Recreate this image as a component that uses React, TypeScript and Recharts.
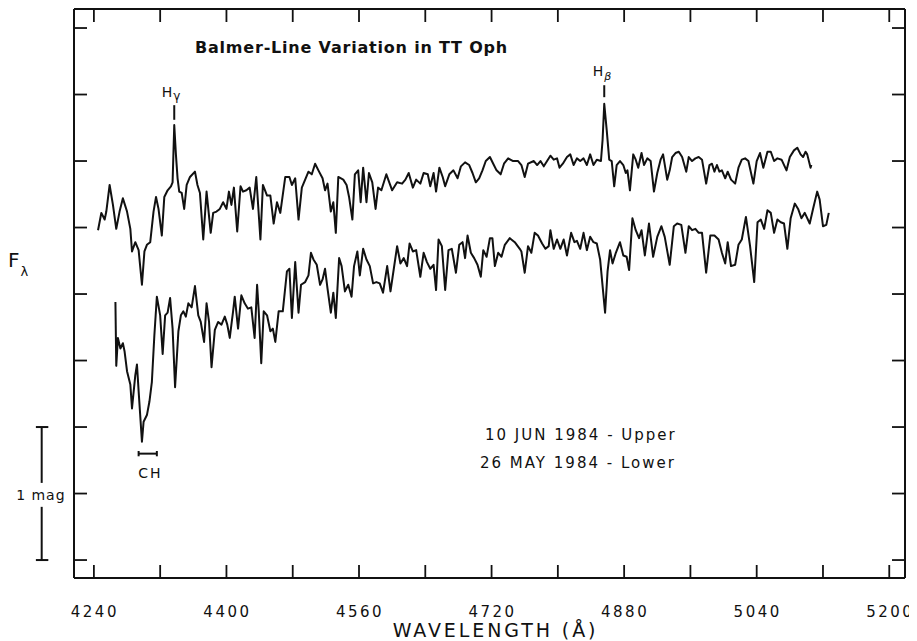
import { LineChart, Line, XAxis, YAxis, ReferenceLine, ReferenceDot } from "recharts";

// wavelength (Å) and relative flux (mag, 1 unit = 1 mag)
const upperWave = [
  4245, 4249, 4253, 4255, 4259, 4263, 4267, 4271, 4275, 4277, 4280, 4284, 4286, 4290, 4294, 4298,
  4301, 4304, 4308, 4312, 4315, 4318, 4322, 4325, 4329, 4333, 4335, 4337, 4339, 4341, 4343, 4346,
  4349, 4352, 4356, 4362, 4365, 4368, 4372, 4376, 4381, 4384, 4388, 4392, 4396, 4400, 4403, 4406,
  4409, 4413, 4417, 4420, 4424, 4428, 4432, 4436, 4441, 4444, 4449, 4453, 4457, 4461, 4465, 4471,
  4476, 4479, 4483, 4487, 4491, 4495, 4499, 4503, 4507, 4511, 4516, 4519, 4522, 4526, 4529, 4532,
  4535, 4541, 4545, 4548, 4552, 4555, 4559, 4562, 4565, 4569, 4572, 4576, 4580, 4583, 4587, 4593,
  4600, 4606, 4612, 4616, 4620, 4625, 4629, 4634, 4638, 4643, 4646, 4650, 4653, 4657, 4661, 4664,
  4669, 4674, 4679, 4683, 4688, 4693, 4697, 4701, 4705, 4709, 4713, 4718, 4722, 4726, 4731, 4735,
  4740, 4746, 4752, 4756, 4760, 4764, 4771, 4775, 4779, 4783, 4787, 4791, 4795, 4799, 4802, 4806,
  4811, 4815, 4819, 4823, 4827, 4831, 4835, 4839, 4843, 4847, 4852, 4854, 4856, 4859, 4862, 4865,
  4868, 4871, 4875, 4879, 4882, 4884, 4887, 4891, 4894, 4897, 4901, 4904, 4908, 4912, 4916, 4920,
  4924, 4927, 4932, 4935, 4938, 4942, 4946, 4950, 4955, 4958, 4962, 4966, 4970, 4974, 4979, 4983,
  4986, 4989, 4992, 4995, 4998, 5002, 5005, 5009, 5014, 5018, 5022, 5026, 5030, 5036, 5040, 5044,
  5048, 5053, 5057, 5061, 5065, 5070, 5076, 5080, 5085, 5089, 5093, 5096, 5099, 5101, 5105, 5106,
];
const upperFlux = [
  2.48, 2.61, 2.56, 2.62, 2.82, 2.67, 2.49, 2.62, 2.72, 2.68, 2.62, 2.49, 2.32, 2.39, 2.33, 2.07,
  2.32, 2.37, 2.39, 2.62, 2.73, 2.64, 2.44, 2.73, 2.78, 2.81, 2.84, 3.27, 3.05, 2.87, 2.77, 2.76,
  2.64, 2.82, 2.88, 2.92, 2.82, 2.76, 2.41, 2.77, 2.46, 2.61, 2.62, 2.64, 2.69, 2.64, 2.77, 2.67,
  2.8, 2.47, 2.81, 2.77, 2.78, 2.8, 2.64, 2.88, 2.41, 2.82, 2.74, 2.74, 2.53, 2.69, 2.61, 2.88,
  2.88, 2.82, 2.87, 2.56, 2.8, 2.86, 2.92, 2.9, 2.98, 2.93, 2.87, 2.78, 2.83, 2.62, 2.69, 2.46,
  2.88, 2.86, 2.82, 2.73, 2.56, 2.9, 2.93, 2.69, 2.95, 2.69, 2.91, 2.84, 2.64, 2.8, 2.78, 2.9,
  2.78, 2.84, 2.83, 2.86, 2.91, 2.8, 2.86, 2.83, 2.91, 2.9, 2.81, 2.91, 2.77, 2.95, 2.88, 2.81,
  2.9, 2.93, 2.87, 2.96, 2.99, 2.97, 2.91, 2.84, 2.87, 2.93, 3.0, 3.03, 2.98, 2.93, 2.9, 2.98,
  3.02, 3.0, 3.0, 2.97, 2.88, 2.98, 3.0, 2.97, 3.0, 2.96, 3.0, 3.04, 3.01, 3.02, 2.95, 2.98,
  3.03, 3.05, 2.97, 3.02, 3.0, 3.02, 2.97, 3.05, 2.97, 3.01, 3.0, 3.16, 3.43, 3.23, 3.01, 3.0,
  2.81, 2.97, 3.0, 2.97, 2.91, 2.93, 2.78, 3.05, 3.01, 2.95, 3.06, 2.97, 3.02, 3.0, 2.77, 2.91,
  3.01, 3.05, 2.86, 2.93, 3.03, 3.06, 3.07, 3.03, 2.92, 3.03, 3.0, 3.02, 3.03, 3.01, 2.83, 2.97,
  2.98, 2.92, 2.97, 2.92, 2.93, 2.87, 2.92, 2.86, 2.83, 2.95, 3.01, 3.02, 3.0, 2.83, 3.0, 3.06,
  2.95, 3.07, 3.07, 3.0, 3.02, 3.01, 2.93, 3.03, 3.08, 3.1, 3.05, 3.03, 3.07, 3.05, 2.95, 2.97,
];

const lowerWave = [
  4266, 4267, 4269, 4272, 4275, 4277, 4280, 4284, 4286, 4290, 4292, 4294, 4298, 4300, 4304, 4307,
  4310, 4313, 4316, 4320, 4323, 4326, 4329, 4332, 4335, 4338, 4342, 4345, 4348, 4351, 4354, 4358,
  4362, 4366, 4369, 4373, 4376, 4379, 4382, 4386, 4390, 4394, 4398, 4401, 4404, 4408, 4410, 4414,
  4418, 4422, 4426, 4430, 4434, 4437, 4439, 4442, 4445, 4449, 4453, 4456, 4459, 4463, 4468, 4473,
  4476, 4479, 4483, 4487, 4490, 4495, 4499, 4502, 4505, 4509, 4513, 4516, 4519, 4522, 4526, 4529,
  4532, 4536, 4539, 4543, 4547, 4551, 4554, 4558, 4561, 4565, 4569, 4573, 4577, 4581, 4585, 4589,
  4594, 4598, 4602, 4606, 4610, 4614, 4618, 4621, 4625, 4629, 4634, 4638, 4642, 4646, 4650, 4653,
  4656, 4660, 4664, 4668, 4672, 4677, 4681, 4685, 4688, 4691, 4695, 4699, 4703, 4707, 4710, 4714,
  4718, 4721, 4724, 4728, 4732, 4736, 4742, 4748, 4754, 4756, 4760, 4764, 4768, 4772, 4776, 4781,
  4785, 4789, 4791, 4795, 4799, 4803, 4807, 4811, 4816, 4820, 4823, 4827, 4831, 4835, 4839, 4843,
  4847, 4851, 4854, 4857, 4860, 4863, 4866, 4870, 4875, 4879, 4883, 4886, 4890, 4894, 4898, 4901,
  4905, 4910, 4915, 4920, 4925, 4929, 4935, 4940, 4944, 4949, 4954, 4958, 4962, 4966, 4970, 4974,
  4979, 4984, 4989, 4994, 4998, 5002, 5005, 5009, 5014, 5018, 5022, 5027, 5032, 5037, 5041, 5045,
  5049, 5053, 5057, 5061, 5065, 5069, 5073, 5077, 5081, 5086, 5090, 5094, 5098, 5104, 5108, 5113,
  5116, 5120, 5124, 5127,
];
const lowerFlux = [
  1.94, 1.46, 1.67, 1.59, 1.63, 1.57, 1.42, 1.32, 1.14, 1.39, 1.47, 1.27, 0.89, 1.04, 1.09, 1.19,
  1.34, 1.69, 1.98, 1.84, 1.55, 1.84, 1.86, 1.97, 1.74, 1.3, 1.72, 1.84, 1.87, 1.83, 1.93, 1.9,
  2.06, 1.84, 1.79, 1.64, 1.93, 1.79, 1.45, 1.73, 1.79, 1.77, 1.83, 1.77, 1.67, 1.87, 1.98, 1.74,
  1.99, 1.93, 1.89, 1.9, 1.67, 2.07, 1.87, 1.48, 1.87, 1.84, 1.72, 1.74, 1.64, 1.87, 1.87, 2.17,
  2.19, 1.82, 2.24, 1.86, 2.07, 2.09, 2.14, 2.31, 2.26, 2.22, 2.07, 2.11, 2.19, 2.04, 1.86, 2.01,
  1.82, 2.27, 2.21, 2.02, 2.07, 1.98, 2.21, 2.32, 2.14, 2.34, 2.26, 2.21, 2.08, 2.09, 2.08, 2.01,
  2.21, 2.02, 2.19, 2.36, 2.23, 2.27, 2.21, 2.38, 2.32, 2.33, 2.13, 2.31, 2.24, 2.19, 2.22, 2.03,
  2.41, 2.36, 2.03, 2.33, 2.34, 2.16, 2.37, 2.39, 2.27, 2.44, 2.31, 2.27, 2.22, 2.13, 2.33, 2.28,
  2.42, 2.42, 2.21, 2.31, 2.28, 2.37, 2.42, 2.39, 2.34, 2.32, 2.16, 2.36, 2.31, 2.46, 2.44, 2.38,
  2.34, 2.36, 2.48, 2.34, 2.41, 2.34, 2.41, 2.29, 2.46, 2.39, 2.4, 2.34, 2.46, 2.33, 2.43, 2.39,
  2.38, 2.26, 2.06, 1.86, 2.17, 2.33, 2.23, 2.31, 2.39, 2.29, 2.28, 2.18, 2.57, 2.48, 2.42, 2.48,
  2.29, 2.53, 2.28, 2.43, 2.51, 2.43, 2.22, 2.51, 2.53, 2.52, 2.31, 2.51, 2.48, 2.49, 2.46, 2.46,
  2.16, 2.44, 2.44, 2.41, 2.31, 2.23, 2.39, 2.21, 2.22, 2.37, 2.41, 2.58, 2.36, 2.09, 2.54, 2.56,
  2.49, 2.63, 2.61, 2.46, 2.56, 2.54, 2.53, 2.34, 2.57, 2.68, 2.64, 2.57, 2.61, 2.53, 2.64, 2.77,
  2.71, 2.51, 2.52, 2.61,
];

const waveTicks = [4240, 4320, 4400, 4480, 4560, 4640, 4720, 4800, 4880, 4960, 5040, 5120, 5200];
const fluxTicks = [0, 0.5, 1, 1.5, 2, 2.5, 3, 3.5, 4];

const upper = upperWave.map((w, i) => ({ w, f: upperFlux[i] }));
const lower = lowerWave.map((w, i) => ({ w, f: lowerFlux[i] }));

const INK = "#111";
const FONT = "'DejaVu Sans', sans-serif";
const X_DOMAIN = [4216, 5219];
const Y_DOMAIN = [-0.135, 4.143];

// render a text node at a data point (ReferenceDot label gets the pixel spot in viewBox)
const at = (draw: (x: number, y: number) => any) => (p: any) => {
  const vb = p.viewBox || p;
  return draw(vb.x, vb.y);
};

function WaveTick({ x, y, payload }: any) {
  const v = payload.value;
  if ((v - 4240) % 160 !== 0) return <g />;
  return (
    <text x={x + 1} y={y} dy="0.71em" textAnchor="middle" fontFamily={FONT} fontSize={15} letterSpacing={2.5} fill={INK}>
      {v}
    </text>
  );
}

const NoTick = () => <g />;

const seg = (x1: number, y1: number, x2: number, y2: number, key: string) => (
  <ReferenceLine
    key={key}
    segment={[{ x: x1, y: y1 }, { x: x2, y: y2 }]}
    stroke={INK}
    strokeWidth={2}
    ifOverflow="visible"
  />
);

const note = (x: number, y: number, key: string, draw: (px: number, py: number) => any) => (
  <ReferenceDot key={key} x={x} y={y} r={0} fill="none" stroke="none" ifOverflow="visible" label={at(draw)} />
);

export default function App() {
  const axisLine = { stroke: INK, strokeWidth: 2 };
  const tickLine = { stroke: INK, strokeWidth: 1.8 };

  return (
    <LineChart width={909} height={632} margin={{ top: 0, right: 11, left: 0, bottom: 0 }}>
      <XAxis
        dataKey="w"
        type="number"
        domain={X_DOMAIN}
        allowDataOverflow
        ticks={waveTicks}
        interval={0}
        height={62}
        tickSize={-13}
        tickMargin={41}
        axisLine={axisLine}
        tickLine={tickLine}
        tick={<WaveTick />}
        label={(p: any) => {
          const vb = p.viewBox;
          return (
            <text x={vb.x + vb.width / 2 + 6} y={vb.y + 59} textAnchor="middle" fontFamily={FONT} fontSize={19} letterSpacing={2.9} fill={INK}>
              WAVELENGTH (Å)
            </text>
          );
        }}
      />
      <XAxis
        xAxisId="top"
        orientation="top"
        dataKey="w"
        type="number"
        domain={X_DOMAIN}
        allowDataOverflow
        ticks={waveTicks}
        interval={0}
        height={1}
        tickSize={-13}
        axisLine={axisLine}
        tickLine={tickLine}
        tick={<NoTick />}
      />
      <YAxis
        type="number"
        domain={Y_DOMAIN}
        allowDataOverflow
        ticks={fluxTicks}
        interval={0}
        width={66}
        tickSize={-13}
        axisLine={axisLine}
        tickLine={tickLine}
        tick={<NoTick />}
        label={(p: any) => {
          const vb = p.viewBox;
          return (
            <text x={vb.x} y={vb.y + 258} fontFamily={FONT} fontSize={20} fill={INK}>
              F
              <tspan fontSize={13} dx={1} dy={9}>λ</tspan>
            </text>
          );
        }}
      />
      <YAxis
        yAxisId="right"
        orientation="right"
        type="number"
        domain={Y_DOMAIN}
        allowDataOverflow
        ticks={fluxTicks}
        interval={0}
        width={1}
        tickSize={-13}
        axisLine={axisLine}
        tickLine={tickLine}
        tick={<NoTick />}
      />

      <Line
        xAxisId="top"
        yAxisId="right"
        data={upper}
        dataKey="f"
        type="linear"
        stroke={INK}
        strokeWidth={2}
        dot={false}
        isAnimationActive={false}
        strokeLinejoin="round"
      />
      <Line data={lower} dataKey="f" type="linear" stroke={INK} strokeWidth={2} dot={false} isAnimationActive={false} strokeLinejoin="round" />

      {/* line markers */}
      {seg(4337, 3.31, 4337, 3.42, "hg")}
      {seg(4856, 3.48, 4856, 3.57, "hb")}
      {/* CH bracket */}
      {seg(4294, 0.8, 4316, 0.8, "ch")}
      {seg(4294, 0.78, 4294, 0.82, "ch1")}
      {seg(4316, 0.78, 4316, 0.82, "ch2")}
      {/* 1 mag scale bar */}
      {seg(4177, 0, 4177, 0.4, "m1")}
      {seg(4177, 0.58, 4177, 1, "m2")}
      {seg(4170, 1, 4185, 1, "m3")}
      {seg(4170, 0, 4185, 0, "m4")}

      {note(4362, 3.81, "title", (x, y) => (
        <text x={x} y={y} fontFamily={FONT} fontSize={16} fontWeight="bold" letterSpacing={0.8} fill={INK}>
          Balmer-Line Variation in TT Oph
        </text>
      ))}
      {note(4322, 3.48, "hgl", (x, y) => (
        <text x={x} y={y} fontFamily={FONT} fontSize={14} fill={INK}>
          H<tspan fontSize={12} dx={1} dy={3}>γ</tspan>
        </text>
      ))}
      {note(4842, 3.64, "hbl", (x, y) => (
        <text x={x} y={y} fontFamily={FONT} fontSize={14} fill={INK}>
          H<tspan fontSize={11} dx={1} dy={4} fontStyle="italic">β</tspan>
        </text>
      ))}
      {note(4712, 0.9, "leg1", (x, y) => (
        <text x={x} y={y} fontFamily={FONT} fontSize={15} letterSpacing={2} fill={INK}>
          10 JUN 1984 - Upper
        </text>
      ))}
      {note(4706, 0.69, "leg2", (x, y) => (
        <text x={x} y={y} fontFamily={FONT} fontSize={15} letterSpacing={2} fill={INK}>
          26 MAY 1984 - Lower
        </text>
      ))}
      {note(4307, 0.62, "chl", (x, y) => (
        <text x={x + 1} y={y} textAnchor="middle" fontFamily={FONT} fontSize={14} letterSpacing={2} fill={INK}>
          CH
        </text>
      ))}
      {note(4176, 0.455, "mag", (x, y) => (
        <text x={x} y={y} textAnchor="middle" fontFamily={FONT} fontSize={14} letterSpacing={1} fill={INK}>
          1 mag
        </text>
      ))}
    </LineChart>
  );
}
